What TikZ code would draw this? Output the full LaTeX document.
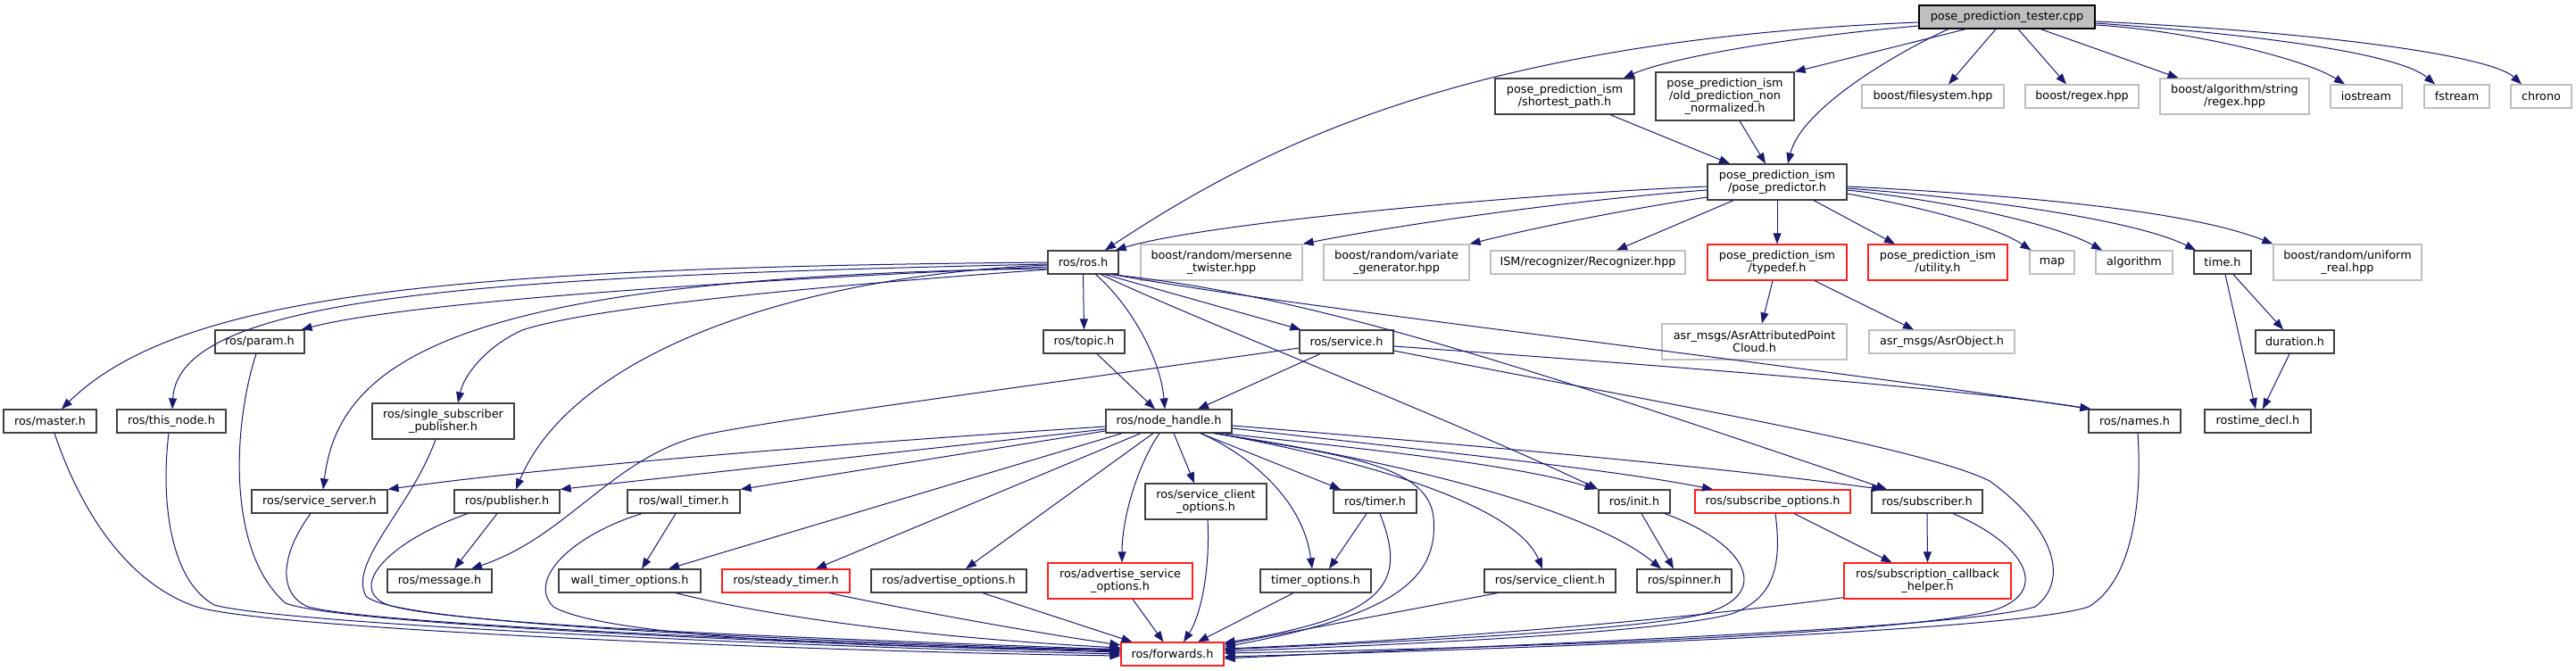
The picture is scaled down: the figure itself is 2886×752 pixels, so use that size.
\documentclass[tikz,border=0pt]{standalone}
\usepackage{fontspec}
\newfontfamily\djvfont{DejaVu Sans}
\usetikzlibrary{arrows.meta}
\definecolor{eblue}{HTML}{191970}
\definecolor{ngray}{HTML}{BFBFBF}
\definecolor{nred}{HTML}{FF2020}
\definecolor{nblack}{HTML}{404040}
\tikzset{
  base/.style={draw, rectangle, inner sep=0pt, align=center, fill=white, line width=1.2pt,
    font={\djvfont\fontsize{12.8}{14.2}\selectfont}},
  nb/.style={base, draw=nblack},
  ng/.style={base, draw=ngray},
  nr/.style={base, draw=nred},
  ntop/.style={base, draw=black, fill=ngray},
  sz/.style 2 args={minimum width=#1pt, minimum height=#2pt},
  e/.style={draw=eblue, line width=1pt, -{Triangle[length=12pt,width=9pt]}},
}
\begin{document}
\begin{tikzpicture}[x=1pt,y=-1pt]
\useasboundingbox[fill=white] (0,0) rectangle (2886,752);
% nodes
\node[ntop, sz={197}{26}] (tester) at (2248.5,19) {pose\_prediction\_tester.cpp};
\node[nb, sz={156}{40}] (shortest) at (1753,108) {pose\_prediction\_ism\\/shortest\_path.h};
\node[nb, sz={155}{54}] (oldpred) at (1932.5,108) {pose\_prediction\_ism\\/old\_prediction\_non\\\_normalized.h};
\node[ng, sz={159}{26}] (fs) at (2165.5,108) {boost/filesystem.hpp};
\node[ng, sz={127}{26}] (bregex) at (2332.5,108) {boost/regex.hpp};
\node[ng, sz={167}{40}] (balg) at (2503.5,108) {boost/algorithm/string\\/regex.hpp};
\node[ng, sz={80}{26}] (iostream) at (2651,108) {iostream};
\node[ng, sz={73}{26}] (fstream) at (2752.5,108) {fstream};
\node[ng, sz={68}{26}] (chrono) at (2847,108) {chrono};
\node[nb, sz={156}{40}] (predictor) at (1991,204) {pose\_prediction\_ism\\/pose\_predictor.h};
\node[nb, sz={79}{26}] (rosh) at (1213.5,294) {ros/ros.h};
\node[ng, sz={181}{40}] (mersenne) at (1368.5,294) {boost/random/mersenne\\\_twister.hpp};
\node[ng, sz={163}{40}] (variate) at (1564.5,294) {boost/random/variate\\\_generator.hpp};
\node[ng, sz={218}{26}] (ism) at (1779,294) {ISM/recognizer/Recognizer.hpp};
\node[nr, sz={156}{40}] (typedef) at (1991,294) {pose\_prediction\_ism\\/typedef.h};
\node[nr, sz={156}{40}] (utility) at (2171,294) {pose\_prediction\_ism\\/utility.h};
\node[ng, sz={50}{26}] (map) at (2299,294) {map};
\node[ng, sz={86}{26}] (algorithm) at (2391,294) {algorithm};
\node[nb, sz={64}{26}] (timeh) at (2490,294) {time.h};
\node[ng, sz={166}{40}] (uniform) at (2630,294) {boost/random/uniform\\\_real.hpp};
\node[nb, sz={100}{26}] (param) at (291,383) {ros/param.h};
\node[nb, sz={91}{26}] (topic) at (1214.5,383) {ros/topic.h};
\node[nb, sz={105}{26}] (service) at (1508.5,383) {ros/service.h};
\node[ng, sz={207}{40}] (asrapc) at (1965.5,383) {asr\_msgs/AsrAttributedPoint\\Cloud.h};
\node[ng, sz={163}{26}] (asrobj) at (2175.5,383) {asr\_msgs/AsrObject.h};
\node[nb, sz={88}{26}] (duration) at (2571,383) {duration.h};
\node[nb, sz={104}{26}] (master) at (56,472) {ros/master.h};
\node[nb, sz={122}{26}] (thisnode) at (192,472) {ros/this\_node.h};
\node[nb, sz={159}{40}] (ssp) at (496.5,472) {ros/single\_subscriber\\\_publisher.h};
\node[nb, sz={141}{26}] (nodehandle) at (1309.5,472) {ros/node\_handle.h};
\node[nb, sz={103}{26}] (names) at (2391.5,472) {ros/names.h};
\node[nb, sz={119}{26}] (rostimedecl) at (2529.5,472) {rostime\_decl.h};
\node[nb, sz={152}{26}] (servserver) at (358,562) {ros/service\_server.h};
\node[nb, sz={118}{26}] (publisher) at (568,562) {ros/publisher.h};
\node[nb, sz={126}{26}] (walltimer) at (766,562) {ros/wall\_timer.h};
\node[nb, sz={136}{40}] (sco) at (1351,562) {ros/service\_client\\\_options.h};
\node[nb, sz={93}{26}] (timer) at (1540.5,562) {ros/timer.h};
\node[nb, sz={80}{26}] (init) at (1831,562) {ros/init.h};
\node[nr, sz={174}{26}] (subopts) at (1986,562) {ros/subscribe\_options.h};
\node[nb, sz={124}{26}] (subscriber) at (2159,562) {ros/subscriber.h};
\node[nb, sz={117}{26}] (message) at (492.5,651) {ros/message.h};
\node[nb, sz={159}{26}] (wto) at (705.5,651) {wall\_timer\_options.h};
\node[nr, sz={143}{26}] (steady) at (880.5,651) {ros/steady\_timer.h};
\node[nb, sz={174}{26}] (advopts) at (1063,651) {ros/advertise\_options.h};
\node[nr, sz={162}{40}] (aso) at (1255,651) {ros/advertise\_service\\\_options.h};
\node[nb, sz={124}{26}] (timeropts) at (1474,651) {timer\_options.h};
\node[nb, sz={147}{26}] (servclient) at (1736.5,651) {ros/service\_client.h};
\node[nb, sz={106}{26}] (spinner) at (1887,651) {ros/spinner.h};
\node[nr, sz={187}{40}] (sch) at (2159.5,651) {ros/subscription\_callback\\\_helper.h};
\node[nr, sz={115}{26}] (forwards) at (1313.5,733) {ros/forwards.h};
% tester edges
\draw[e] ([yshift=-6]tester.west) .. controls (1650,45) and (1420,160) .. ([xshift=24.5]rosh.north);
\draw[e] ([yshift=-10]tester.west) .. controls (2000,42) and (1870,65) .. ([xshift=66]shortest.north);
\draw[e] ([xshift=-46]tester.south) -- (oldpred.north east);
\draw[e] ([xshift=-65.5]tester.south) .. controls (2123,60) and (2018,122) .. ([xshift=12]predictor.north);
\draw[e] ([xshift=-12.5]tester.south) -- ([xshift=17.5]fs.north);
\draw[e] ([xshift=12.5]tester.south) -- ([xshift=-17.5]bregex.north);
\draw[e] ([xshift=37.5]tester.south) -- ([xshift=-63]balg.north);
\draw[e] ([yshift=-9]tester.east) .. controls (2450,34) and (2580,65) .. ([xshift=-24]iostream.north);
\draw[e] ([yshift=-7]tester.east) .. controls (2550,40) and (2690,62) .. ([xshift=-24.5]fstream.north);
\draw[e] ([yshift=-5]tester.east) .. controls (2600,36) and (2790,62) .. ([xshift=-22]chrono.north);
\draw[e] ([xshift=51]shortest.south) -- ([xshift=-53]predictor.north);
\draw[e] ([xshift=16.5]oldpred.south) -- ([xshift=-13]predictor.north);
% predictor edges
\draw[e] ([yshift=-5]predictor.west) .. controls (1700,218) and (1350,250) .. ([xshift=-4]rosh.north east);
\draw[e] ([yshift=-9]predictor.west) .. controls (1750,225) and (1550,255) .. (mersenne.north east);
\draw[e] ([yshift=-17]predictor.west) .. controls (1820,235) and (1720,255) .. (variate.north east);
\draw[e] ([xshift=-49]predictor.south) -- ([xshift=32]ism.north);
\draw[e] (predictor.south) -- (typedef.north);
\draw[e] ([xshift=41]predictor.south) -- ([xshift=-48]utility.north);
\draw[e] ([yshift=-13]predictor.east) .. controls (2130,228) and (2230,250) .. ([xshift=2]map.north west);
\draw[e] ([yshift=-9]predictor.east) .. controls (2180,225) and (2300,250) .. ([xshift=-36]algorithm.north);
\draw[e] ([yshift=-7]predictor.east) .. controls (2250,225) and (2400,250) .. ([xshift=-30]timeh.north);
\draw[e] ([yshift=-5]predictor.east) .. controls (2250,218) and (2450,235) .. (uniform.north west);
\draw[e] ([xshift=-5]typedef.south) -- ([xshift=8.5]asrapc.north);
\draw[e] ([xshift=42]typedef.south) -- ([xshift=-31.5]asrobj.north);
\draw[e] ([xshift=12]timeh.south) -- ([xshift=-13]duration.north);
\draw[e] ([xshift=3]timeh.south) -- ([xshift=-2.5]rostimedecl.north);
\draw[e] ([xshift=-6]duration.south) -- ([xshift=5.5]rostimedecl.north);
% ros.h edges
\draw[e] (rosh.west) .. controls (500,300) and (200,330) .. ([xshift=13]master.north);
\draw[e] ([yshift=-2]rosh.west) .. controls (550,310) and (200,330) .. ([xshift=1]thisnode.north);
\draw[e] ([yshift=-5]rosh.west) .. controls (800,315) and (450,340) .. ([xshift=-4]param.north east);
\draw[e] ([yshift=-7]rosh.west) .. controls (520,310) and (380,400) .. ([xshift=4]servserver.north);
\draw[e] ([yshift=-8]rosh.west) .. controls (900,322) and (660,345) .. (585,370) .. controls (545,388) and (520,420) .. ([xshift=16.5]ssp.north);
\draw[e] ([yshift=-3]rosh.west) .. controls (880,310) and (640,400) .. ([xshift=10]publisher.north);
\draw[e] (rosh.south) -- (topic.north);
\draw[e] ([xshift=14]rosh.south) .. controls (1265,340) and (1300,400) .. ([xshift=-4.5]nodehandle.north);
\draw[e] ([xshift=24.5]rosh.south) -- ([xshift=2]service.north west);
\draw[e] ([xshift=20]rosh.south) .. controls (1320,350) and (1650,480) .. (init.north west);
\draw[e] ([xshift=32]rosh.south) .. controls (1450,330) and (1650,390) .. ([xshift=-45]subscriber.north);
\draw[e] ([xshift=33]rosh.south) .. controls (1450,345) and (1950,400) .. ([xshift=3]names.north west);
\draw[e] ([xshift=14.5]topic.south) -- ([xshift=-15.5]nodehandle.north);
% service edges
\draw[e] ([xshift=-29.5]service.south) -- ([xshift=32.5]nodehandle.north);
\draw[e] ([yshift=-7]service.west) .. controls (1150,433) and (900,466) .. (800,485) .. controls (690,505) and (640,600) .. ([xshift=35.5]message.north);
\draw[e] ([yshift=-5]service.east) .. controls (1800,405) and (2200,435) .. ([xshift=3]names.north west);
\draw[e] ([yshift=-10]service.east) .. controls (1850,450) and (2150,500) .. (2229,539) .. controls (2300,590) and (2320,650) .. (2280,680) .. controls (2200,705) and (1700,722) .. ([yshift=-5]forwards.east);
% node_handle edges
\draw[e] ([yshift=-6]nodehandle.west) .. controls (900,500) and (600,525) .. (servserver.north east);
\draw[e] ([yshift=-9]nodehandle.west) -- (publisher.north east);
\draw[e] ([yshift=-11]nodehandle.west) -- (walltimer.north east);
\draw[e] ([xshift=-52.5]nodehandle.south) -- ([xshift=43.5]wto.north);
\draw[e] ([xshift=-31.5]nodehandle.south) -- ([xshift=33.5]steady.north);
\draw[e] ([xshift=-17.5]nodehandle.south) -- ([xshift=19]advopts.north);
\draw[e] ([xshift=-10.5]nodehandle.south) .. controls (1275,520) and (1257,580) .. ([xshift=2]aso.north);
\draw[e] ([xshift=5.5]nodehandle.south) -- ([xshift=-13]sco.north);
\draw[e] ([xshift=35.5]nodehandle.south) .. controls (1400,510) and (1460,560) .. ([xshift=-4]timeropts.north);
\draw[e] ([xshift=35.5]nodehandle.south) -- ([xshift=-38.5]timer.north);
\draw[e] ([xshift=51.5]nodehandle.south) .. controls (1500,510) and (1600,520) .. (1606,580) .. controls (1612,650) and (1560,690) .. ([yshift=8]forwards.east);
\draw[e] ([xshift=52]nodehandle.south) .. controls (1550,520) and (1700,570) .. ([xshift=-8.5]servclient.north);
\draw[e] ([xshift=60]nodehandle.south) .. controls (1500,500) and (1700,520) .. ([xshift=-3]init.north west);
\draw[e] ([xshift=50]nodehandle.south) .. controls (1560,515) and (1780,570) .. ([xshift=-26]spinner.north);
\draw[e] ([yshift=-5]nodehandle.east) .. controls (1600,495) and (1900,520) .. ([xshift=-50]subscriber.north);
\draw[e] ([yshift=-8]nodehandle.east) .. controls (1600,505) and (1800,525) .. ([xshift=-67]subopts.north);
% small edges
\draw[e] ([xshift=-11]publisher.south) -- ([xshift=16.5]message.north);
\draw[e] ([xshift=-9]walltimer.south) -- ([xshift=13.5]wto.north);
\draw[e] ([xshift=-9.5]timer.south) -- ([xshift=15]timeropts.north);
\draw[e] ([xshift=8]init.south) -- ([xshift=-12]spinner.north);
\draw[e] ([xshift=24]subopts.south) -- ([xshift=-40]sch.north);
\draw[e] (subscriber.south) -- (sch.north);
% into forwards from the left
\draw[e] ([xshift=5]master.south) .. controls (100,600) and (160,660) .. (220,680) .. controls (300,705) and (900,730) .. ([yshift=-2]forwards.west);
\draw[e] ([xshift=-3]thisnode.south) .. controls (180,560) and (190,650) .. (240,678) .. controls (320,700) and (900,725) .. (forwards.west);
\draw[e] ([xshift=-4]param.south) .. controls (260,480) and (255,620) .. (320,676) .. controls (380,700) and (900,722) .. ([yshift=2]forwards.west);
\draw[e] ([xshift=-10]servserver.south) .. controls (315,620) and (310,665) .. (345,680) .. controls (420,700) and (900,720) .. ([yshift=3]forwards.west);
\draw[e] ([xshift=-8.5]ssp.south) .. controls (460,570) and (390,630) .. (410,668) .. controls (440,700) and (900,718) .. ([yshift=4]forwards.west);
\draw[e] ([xshift=-44]publisher.south) .. controls (440,605) and (390,655) .. (430,676) .. controls (480,700) and (900,715) .. ([yshift=5]forwards.west);
\draw[e] ([xshift=-47]walltimer.south) .. controls (640,600) and (590,650) .. (620,680) .. controls (680,715) and (1000,728) .. ([yshift=6]forwards.west);
\draw[e] ([xshift=51.5]wto.south) .. controls (900,700) and (1100,718) .. ([yshift=7]forwards.west);
\draw[e] ([xshift=48.5]steady.south) .. controls (1050,690) and (1180,712) .. ([yshift=10]forwards.west);
\draw[e] ([xshift=38]advopts.south) -- ([xshift=-45]forwards.north);
\draw[e] ([xshift=14]aso.south) -- ([xshift=-10]forwards.north);
\draw[e] ([xshift=2]sco.south) .. controls (1356,640) and (1345,690) .. ([xshift=12.5]forwards.north);
\draw[e] ([xshift=-25]timeropts.south) -- ([xshift=28.5]forwards.north);
% into forwards from the right
\draw[e] ([xshift=5.5]timer.south) .. controls (1575,650) and (1560,690) .. ([yshift=-1]forwards.north east);
\draw[e] ([xshift=-58.5]servclient.south) -- ([yshift=-3]forwards.north east);
\draw[e] ([xshift=34]init.south) .. controls (1960,610) and (1990,670) .. (1900,690) .. controls (1800,710) and (1500,722) .. ([yshift=5]forwards.east);
\draw[e] ([xshift=3]subopts.south) .. controls (1996,630) and (1990,670) .. (1940,688) .. controls (1850,712) and (1500,725) .. ([yshift=3]forwards.east);
\draw[e] ([yshift=2]sch.south west) .. controls (1800,705) and (1500,722) .. ([yshift=6]forwards.east);
\draw[e] ([xshift=29]subscriber.south) .. controls (2270,610) and (2300,665) .. (2230,685) .. controls (2100,715) and (1600,728) .. ([yshift=1]forwards.east);
\draw[e] ([xshift=3.5]names.south) .. controls (2400,560) and (2390,650) .. (2340,680) .. controls (2250,710) and (1600,730) .. ([yshift=-3]forwards.east);
\end{tikzpicture}
\end{document}
